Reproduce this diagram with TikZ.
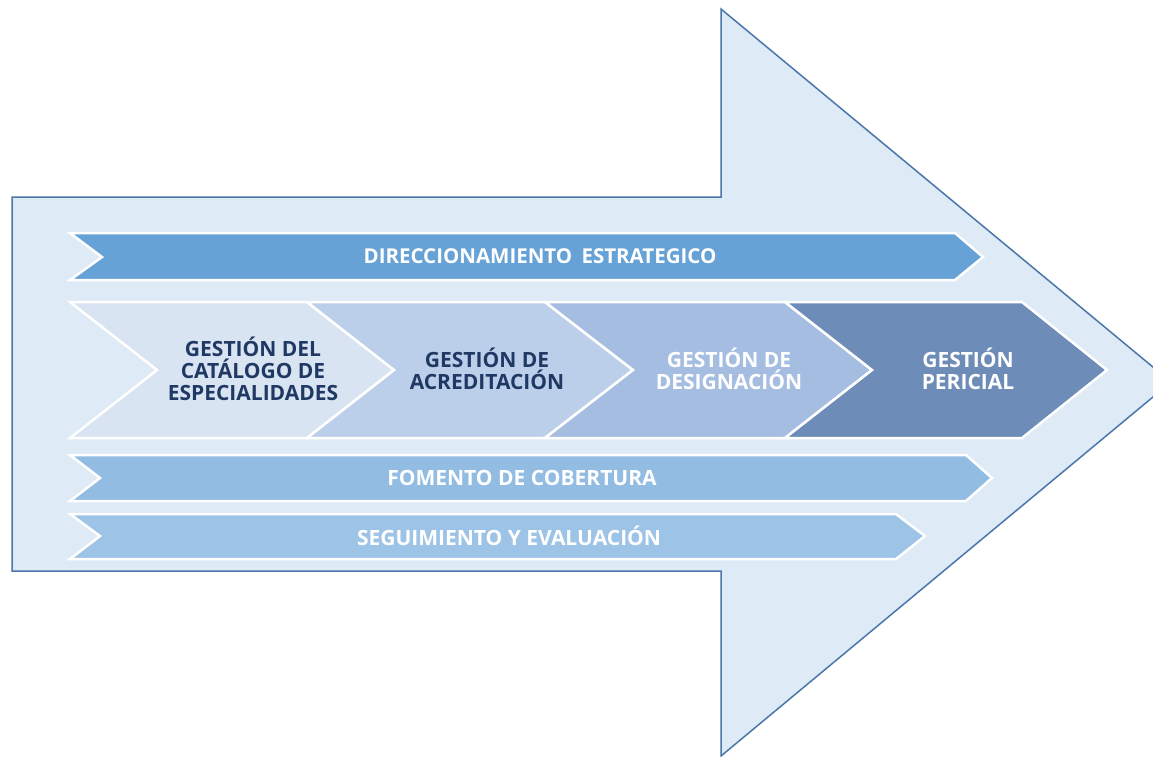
\documentclass[tikz,border=0pt]{standalone}
\usepackage{fontspec}
\setmainfont{Open Sans}
\definecolor{arrowbg}{HTML}{DEEAF6}
\definecolor{arrowline}{HTML}{4A76A8}
\definecolor{dirblue}{HTML}{66A2D6}
\definecolor{catfill}{HTML}{D9E4F2}
\definecolor{acrfill}{HTML}{BCCFEA}
\definecolor{desfill}{HTML}{A6BDE2}
\definecolor{perfill}{HTML}{6E8CB8}
\definecolor{fomfill}{HTML}{93BCE3}
\definecolor{segfill}{HTML}{9DC3E6}
\definecolor{navytext}{HTML}{1F3864}

\begin{document}
\begin{tikzpicture}[x=1pt, y=-1pt,
    band/.style={draw=white, line width=2.5pt, line join=miter},
    lbl/.style={font=\fontsize{21}{22}\selectfont\bfseries, align=center, text=white},
    darklbl/.style={lbl, text=navytext}]
    \useasboundingbox (0,0) rectangle (1153,756);
    \clip (0,0) rectangle (1153,756);
    % big arrow
    \filldraw[fill=arrowbg, draw=arrowline, line width=1.5pt] (12,197) -- (721,197) -- (721,9) -- (1171,382) -- (721,756) -- (721,571) -- (12,571) -- cycle;
    % bands
    \draw[band, fill=dirblue] (70,233) -- (955,233) -- (983,257) -- (955,280) -- (70,280) -- (102,257) -- cycle;
    \draw[band, fill=fomfill] (70,455) -- (966,455) -- (992,478) -- (966,501) -- (70,501) -- (100,478) -- cycle;
    \draw[band, fill=segfill] (70,514) -- (896,514) -- (925,536) -- (896,559) -- (70,559) -- (100,536) -- cycle;
    % chevrons
    \draw[band, fill=catfill] (70,302) -- (307,302) -- (394,370) -- (307,438) -- (70,438) -- (157,370) -- cycle;
    \draw[band, fill=acrfill] (307,302) -- (545,302) -- (633,370) -- (545,438) -- (307,438) -- (394,370) -- cycle;
    \draw[band, fill=desfill] (545,302) -- (785,302) -- (872,370) -- (785,438) -- (545,438) -- (633,370) -- cycle;
    \draw[band, fill=perfill] (785,302) -- (1022,302) -- (1107,370) -- (1022,438) -- (785,438) -- (872,370) -- cycle;
    % labels
    \node[lbl, font=\fontsize{20.5}{22}\selectfont\bfseries] (direccion) at (540,256) {DIRECCIONAMIENTO\hspace{4pt} ESTRATEGICO};
    \node[darklbl] (catalogo) at (253,369) {GESTIÓN DEL\\CATÁLOGO DE\\ESPECIALIDADES};
    \node[darklbl] (acreditacion) at (487,369) {GESTIÓN DE\\ACREDITACIÓN};
    \node[lbl] (designacion) at (729,369) {GESTIÓN DE\\DESIGNACIÓN};
    \node[lbl] (pericial) at (968,369) {GESTIÓN\\PERICIAL};
    \node[lbl] (fomento) at (522,478) {FOMENTO DE COBERTURA};
    \node[lbl] (seguimiento) at (509,536) {SEGUIMIENTO Y EVALUACIÓN};
\end{tikzpicture}
\end{document}
